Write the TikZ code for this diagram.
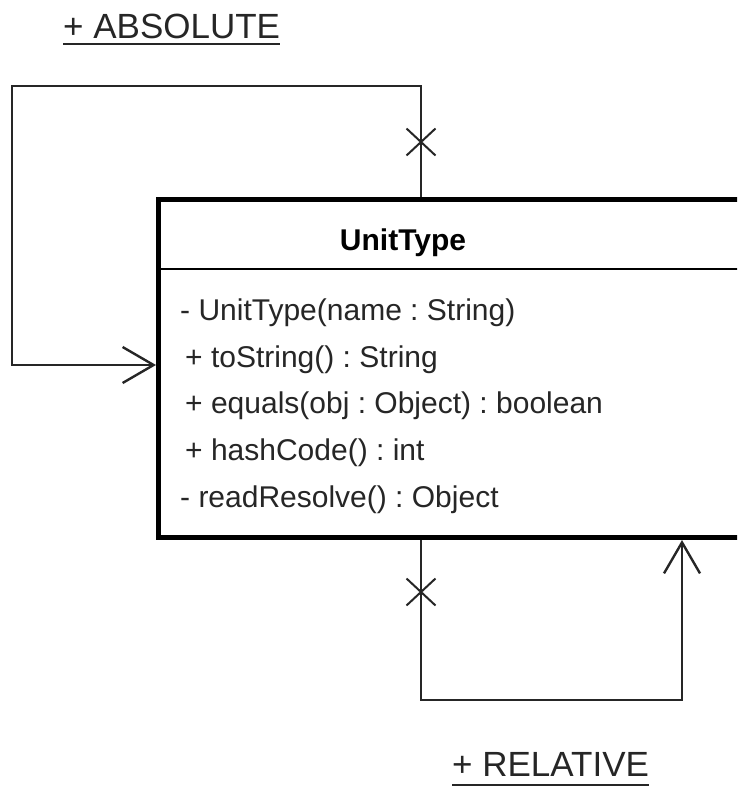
\documentclass[tikz,border=0pt]{standalone}
\usepackage{fontspec}
\setmainfont{Liberation Sans}
\usetikzlibrary{arrows.meta,shapes.misc}
\frenchspacing
\begin{document}
\begin{tikzpicture}[x=1pt,y=-1pt,
  conn/.style={line width=2.4pt, draw=black!85},
  barb/.style={-{Straight Barb[length=31pt,width=36pt,line width=2.4pt]}},
  member/.style={anchor=base west, inner sep=0pt, font=\fontsize{30}{36}\selectfont, text=black!85},
  rolelabel/.style={anchor=base west, inner sep=0pt, font=\fontsize{35}{42}\selectfont, text=black!85},
  xmark/.style={cross out, draw=black!85, line width=2pt, minimum width=27pt, minimum height=25pt, inner sep=0pt}
]
\useasboundingbox (0,0) rectangle (737,787);
\clip (0,0) rectangle (737,787);

% class box
\node[draw=black, line width=5pt, fill=white, anchor=north west, minimum width=620pt, minimum height=338pt, inner sep=0pt] (box) at (156,197) {};
\coordinate (sepL) at (156,269);
\draw[line width=2pt] (sepL) -- (sepL -| box.east);
\node[anchor=base, inner sep=0pt, font=\bfseries\fontsize{30}{36}\selectfont] (title) at (403,250) {UnitType};

\node[member] (m1) at (180,320) {- UnitType(name : String)};
\node[member] (m2) at (185,367) {+ toString() : String};
\node[member] (m3) at (185,413) {+ equals(obj : Object) : boolean};
\node[member] (m4) at (185,460) {+ hashCode() : int};
\node[member] (m5) at (180,507) {- readResolve() : Object};

% ABSOLUTE self-association
\coordinate (a1) at (421,86);
\coordinate (a0) at (12,86);
\coordinate (a2) at (12,365);
\draw[conn, barb] (box.north -| a1) -- (a1) -- (a0) -- (a2) -- (box.west |- a2);
\node[xmark] (xa) at (421,142) {};

% RELATIVE self-association
\coordinate (r1) at (421,700);
\coordinate (r2) at (682,700);
\draw[conn, barb] (box.south -| r1) -- (r1) -- (r2) -- (box.south -| r2);
\node[xmark] (xr) at (421,592) {};

% role labels
\node[rolelabel] (abs) at (63,38) {+ ABSOLUTE};
\draw[line width=2.2pt, black!85] ([yshift=-6pt]abs.base west) -- ([yshift=-6pt]abs.base east);
\node[rolelabel] (rel) at (452,776) {+ RELATIVE};
\draw[line width=2pt, black!85] ([yshift=-9pt]rel.base west) -- ([yshift=-9pt]rel.base east);
\end{tikzpicture}
\end{document}
